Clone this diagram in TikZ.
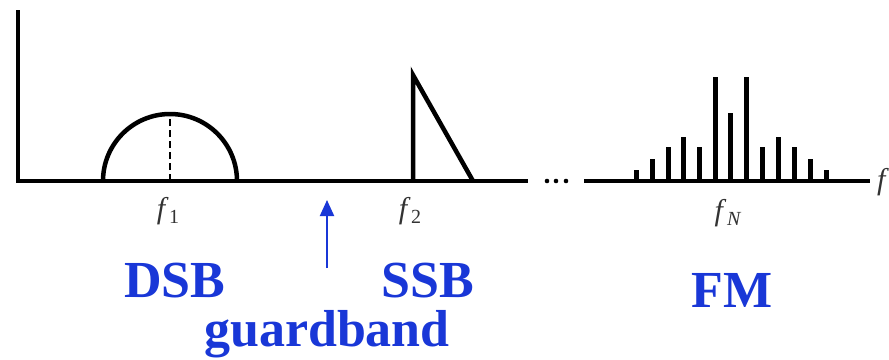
\documentclass[tikz,border=0pt]{standalone}
\usepackage{fontspec}
\setmainfont{Liberation Serif}
\usetikzlibrary{arrows.meta}
\definecolor{lblue}{RGB}{25,55,215}
\newcommand\fsub[2]{\textit{#1}\kern0.5pt\raisebox{-5pt}{\fontsize{20}{20}\selectfont #2}}
\tikzset{
  axisline/.style={line width=3.5pt},
  shapeline/.style={line width=4.5pt},
  barline/.style={line width=5pt},
  flabel/.style={font=\fontsize{30}{32}\selectfont, text=black!80, inner sep=0pt},
  biglabel/.style={font=\fontsize{52}{60}\selectfont\bfseries, text=lblue, inner sep=0pt, anchor=base},
}
\begin{document}
\begin{tikzpicture}[x=1pt,y=-1pt]
\useasboundingbox (0,0) rectangle (889,359);
% axes
\coordinate (top) at (18,10);
\coordinate (org) at (18,181);
\coordinate (e1) at (528,181);
\coordinate (s2) at (584,181);
\coordinate (e2) at (870,181);
\draw[axisline] (top) -- (org) -- (e1);
\draw[axisline] (s2) -- (e2);
\foreach \x in {547,556,566} \fill (\x,181) circle (2.3pt);
% DSB semicircle
\draw[shapeline] (103,181) arc[start angle=180,end angle=360,radius=67];
\draw[line width=1.8pt, dash pattern=on 7pt off 4pt] (170,181) -- (170,114);
% SSB triangle
\draw[shapeline, line join=miter] (413,181) -- (413,75) -- (473,181);
% FM bars
\foreach \x/\y in {636.7/170,652.3/159,668.3/146.7,683.3/136.7,699/146.7,715/76.7,730.7/113.3,746.7/76.7,762.7/146.7,778.3/136.7,794.3/146.7,810/159,826/170}
  \draw[barline] (\x,181) -- (\x,\y);
% frequency labels
\node[flabel] (f1) at (168,211) {\fsub{f}{1}};
\node[flabel] (f2) at (410,211) {\fsub{f}{2}};
\node[flabel] (fN) at (728,213) {\fsub{f}{\textit{N}}};
\node[flabel, anchor=west] (fax) at (877,182) {\textit{f}};
% guardband arrow
\coordinate (gb) at (327,268);
\coordinate (gt) at (327,200);
\draw[lblue, line width=2pt, -{Triangle[width=14pt,length=16pt]}] (gb) -- (gt);
% big labels
\node[biglabel] (dsb) at (175,297) {DSB};
\node[biglabel] (ssb) at (428,297) {SSB};
\node[biglabel] (fm) at (732,307) {FM};
\node[biglabel] (gband) at (327,346) {guardband};
\end{tikzpicture}
\end{document}
